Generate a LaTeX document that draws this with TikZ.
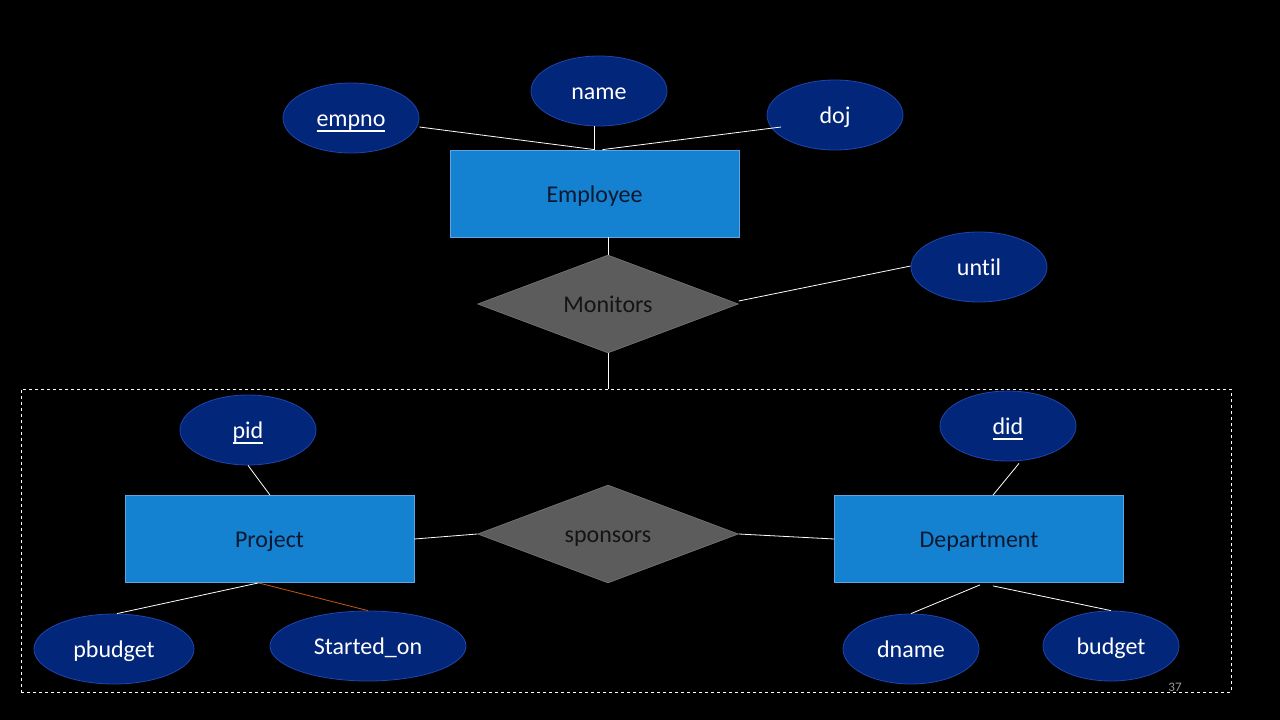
\documentclass[tikz,border=0pt]{standalone}
\usepackage{fontspec}
\setmainfont[Ligatures={NoCommon}]{Carlito}
\usetikzlibrary{shapes.geometric}
\definecolor{ellfill}{RGB}{2,38,122}
\definecolor{elldraw}{RGB}{30,70,175}
\definecolor{entfill}{RGB}{20,130,208}
\definecolor{entdraw}{RGB}{95,165,228}
\definecolor{enttext}{RGB}{12,24,48}
\definecolor{reltext}{RGB}{20,20,20}
\definecolor{relfill}{RGB}{92,92,92}
\definecolor{oline}{RGB}{197,90,17}
\newcommand\myul[1]{\setbox0\hbox{#1}\rlap{\rule[-5pt]{\wd0}{1.4pt}}\box0}
\begin{document}
\begin{tikzpicture}[x=1pt,y=-1pt,
  txt/.style={font=\fontsize{24}{28}\selectfont, text height=19pt, text depth=2pt},
  attr/.style={txt, ellipse, draw=elldraw, fill=ellfill, line width=0.8pt, inner sep=0pt,
    minimum width=136pt, minimum height=70pt, text=white},
  entity/.style={txt, rectangle, draw=entdraw, fill=entfill, line width=0.8pt, inner sep=0pt,
    minimum width=289pt, minimum height=87pt, text=enttext},
  rel/.style={txt, diamond, aspect=2.66, draw=relfill!80!white, fill=relfill, line width=0.5pt, inner sep=0pt,
    minimum width=261pt, minimum height=98pt, text=reltext},
  link/.style={draw=white, line width=0.8pt},
  agg/.style={rectangle, draw=white, dashed, line width=0.8pt, inner sep=0pt}
]
\fill[black] (0,0) rectangle (1280,720);
\useasboundingbox (0,0) rectangle (1280,720);

% aggregation box
\node[agg, minimum width=1210pt, minimum height=303pt] (aggbox) at (626,540.5) {};

% employee part
\node[entity] (emp) at (594.5,193.5) {Employee};
\node[attr] (empno) at (351,118) {\myul{empno}};
\node[attr] (name) at (599,91) {name};
\node[attr] (doj) at (835,115) {doj};
\node[rel] (mon) at (608,304) {Monitors};
\node[attr] (until) at (979,267) {until};

\draw[link] ([yshift=-9pt]empno.east) -- (emp.north);
\draw[link] (name.south -| emp.north) -- (emp.north);
\draw[link] ([xshift=-54pt,yshift=-12pt]doj.center) -- ([xshift=8pt]emp.north);
\draw[link] (mon.north |- emp.south) -- (mon.north);
\draw[link] ([yshift=3pt]mon.east) -- ([yshift=1pt]until.west);
\draw[link] (mon.south) -- (mon.south |- aggbox.north);

% project / department
\node[entity] (proj) at (269.5,539) {Project};
\node[entity] (dept) at (979,539) {Department};
\node[rel] (spons) at (608,534) {sponsors};
\node[attr] (pid) at (248,430) {\myul{pid}};
\node[attr] (did) at (1008,426) {\myul{did}};
\node[attr, minimum width=160pt] (pbudget) at (114,649) {pbudget};
\node[attr, minimum width=196pt] (started) at (368,646) {Started\_on};
\node[attr] (dname) at (911,649) {dname};
\node[attr] (budget) at (1111,646) {budget};

\draw[link] (pid.south) -- ([xshift=0.5pt]proj.north);
\draw[link] ([xshift=11pt,yshift=-2pt]did.south) -- ([xshift=14pt]dept.north);
\draw[link] (proj.east) -- (spons.west);
\draw[link] (spons.east) -- (dept.west);
\draw[link] ([xshift=3pt]pbudget.north) -- ([xshift=-11pt]proj.south);
\draw[draw=oline, line width=0.8pt] ([xshift=-11pt]proj.south) -- (started.north);
\draw[link] (dname.north) -- ([xshift=1pt,yshift=-2pt]dept.south);
\draw[link] ([xshift=14pt,yshift=-3pt]dept.south) -- (budget.north);

\node[text=gray!80, font=\fontsize{13}{15}\selectfont] (pg) at (1175,687) {37};
\end{tikzpicture}
\end{document}
